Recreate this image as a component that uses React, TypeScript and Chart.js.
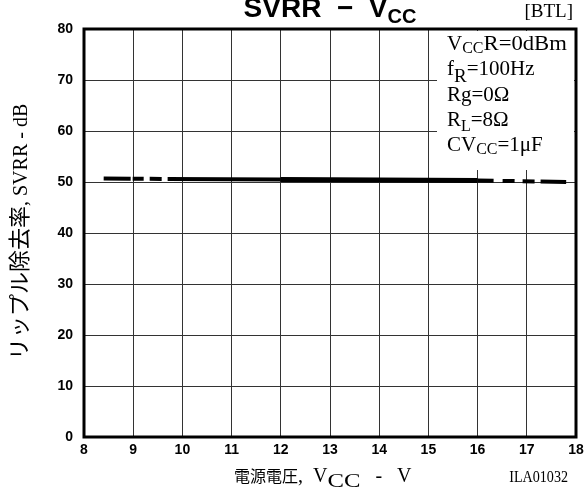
import React, { useEffect, useRef } from "react";
import { Chart, registerables } from "chart.js";

Chart.register(...registerables);

// ---- data ----
const vccLeftDashed = [8.4, 9.7];
const svrrLeftDashed = [50.7, 50.6];
const vccSolidThin = [9.7, 12.0];
const svrrSolidThin = [50.6, 50.5];
const vccSolidThick = [12.0, 16.0];
const svrrSolidThick = [50.5, 50.3];
const vccRightDashed = [16.0, 17.8];
const svrrRightDashed = [50.3, 50.0];

const xMin = 8;
const xMax = 18;
const yMin = 0;
const yMax = 80;

const titleMain = "SVRR  \u2212  V";
const titleSub = "CC";
const titleTag = "[BTL]";
const yTitleJa = "\u30ea\u30c3\u30d7\u30eb\u9664\u53bb\u7387";
const yTitleEn = ", SVRR - dB";
const xTitleJa = "\u96fb\u6e90\u96fb\u5727";
const figCode = "ILA01032";

const SERIF = '"Liberation Serif", "Times New Roman", serif';
const CJK = '"Noto Sans CJK JP", sans-serif';
const SANS = '"Liberation Sans", Arial, sans-serif';

type Part = { t: string; font: string; dy?: number; sx?: number };

function drawParts(
  ctx: CanvasRenderingContext2D,
  parts: Part[],
  x: number,
  y: number,
  align: "left" | "center" | "right"
) {
  ctx.save();
  ctx.textBaseline = "alphabetic";
  ctx.textAlign = "left";
  ctx.fillStyle = "#000";
  const widths = parts.map((p) => {
    ctx.font = p.font;
    return ctx.measureText(p.t).width * (p.sx ?? 1);
  });
  const total = widths.reduce((a, b) => a + b, 0);
  let cx = align === "left" ? x : align === "center" ? x - total / 2 : x - total;
  parts.forEach((p, i) => {
    ctx.font = p.font;
    ctx.save();
    ctx.translate(cx, y + (p.dy ?? 0));
    ctx.scale(p.sx ?? 1, 1);
    ctx.fillText(p.t, 0, 0);
    ctx.restore();
    cx += widths[i];
  });
  ctx.restore();
}

const legendLines: Part[][] = [
  [
    { t: "V", font: `21px ${SERIF}` },
    { t: "CC", font: `16px ${SERIF}`, dy: 3 },
    { t: "R=0dBm", font: `21px ${SERIF}`, sx: 1.08 },
  ],
  [
    { t: "f", font: `21px ${SERIF}` },
    { t: "R", font: `19px ${SERIF}`, dy: 7 },
    { t: "=100Hz", font: `21px ${SERIF}` },
  ],
  [{ t: "Rg=0\u03a9", font: `21px ${SERIF}` }],
  [
    { t: "R", font: `21px ${SERIF}` },
    { t: "L", font: `16px ${SERIF}`, dy: 5 },
    { t: "=8\u03a9", font: `21px ${SERIF}` },
  ],
  [
    { t: "CV", font: `21px ${SERIF}` },
    { t: "CC", font: `16px ${SERIF}`, dy: 3 },
    { t: "=1\u03bcF", font: `21px ${SERIF}` },
  ],
];

const overlayPlugin = {
  id: "overlay",
  beforeDatasetsDraw(chart: any) {
    const ctx: CanvasRenderingContext2D = chart.ctx;
    const { top, right } = chart.chartArea;
    ctx.save();
    ctx.fillStyle = "#fff";
    ctx.fillRect(right - 139, top + 2, 137, 139);
    ctx.restore();
  },
  afterDatasetsDraw(chart: any) {
    const ctx: CanvasRenderingContext2D = chart.ctx;
    const { left, top, right, bottom } = chart.chartArea;
    ctx.save();
    ctx.strokeStyle = "#000";
    ctx.lineWidth = 3;
    ctx.strokeRect(left, top, right - left, bottom - top);
    ctx.restore();
  },
  afterDraw(chart: any) {
    const ctx: CanvasRenderingContext2D = chart.ctx;
    const { left, top, right, bottom } = chart.chartArea;
    const cxArea = (left + right) / 2;

    // title
    drawParts(
      ctx,
      [
        { t: titleMain, font: `bold 28px ${SANS}` },
        { t: titleSub, font: `bold 20px ${SANS}`, dy: 6 },
      ],
      cxArea,
      top - 12,
      "center"
    );
    drawParts(ctx, [{ t: titleTag, font: `19px ${SERIF}` }], right - 3, top - 12, "right");

    // legend text
    legendLines.forEach((line, i) => {
      drawParts(ctx, line, right - 129, top + 21 + i * 25.3, "left");
    });

    // y title (rotated)
    ctx.save();
    ctx.translate(27, 360);
    ctx.rotate(-Math.PI / 2);
    drawParts(
      ctx,
      [
        { t: yTitleJa, font: `22px ${CJK}` },
        { t: yTitleEn, font: `20px ${SERIF}` },
      ],
      0,
      0,
      "left"
    );
    ctx.restore();

    // x title
    drawParts(
      ctx,
      [
        { t: xTitleJa, font: `16px ${CJK}` },
        { t: ",  V", font: `20px ${SERIF}` },
        { t: "CC", font: `19px ${SERIF}`, dy: 5, sx: 1.3 },
        { t: "   -   V", font: `20px ${SERIF}` },
      ],
      left + 150,
      bottom + 45,
      "left"
    );

    // figure code
    drawParts(ctx, [{ t: figCode, font: `17px ${SERIF}`, sx: 0.83 }], right - 8, bottom + 45, "right");
  },
};

function series(xs: number[], ys: number[]) {
  return xs.map((x, i) => ({ x, y: ys[i] }));
}

export default function App() {
  const canvasRef = useRef<HTMLCanvasElement | null>(null);

  useEffect(() => {
    document.body.style.margin = "0";
    const canvas = canvasRef.current;
    if (!canvas) return;
    const common = {
      borderColor: "#000",
      pointRadius: 0,
      fill: false,
      tension: 0,
      borderCapStyle: "butt" as const,
    };
    const chart = new Chart(canvas, {
      type: "line",
      data: {
        datasets: [
          { ...common, data: series(vccLeftDashed, svrrLeftDashed), borderWidth: 4, borderDash: [27, 2, 11, 6, 12, 9] },
          { ...common, data: series(vccSolidThin, svrrSolidThin), borderWidth: 4 },
          { ...common, data: series(vccSolidThick, svrrSolidThick), borderWidth: 5 },
          { ...common, data: series(vccRightDashed, svrrRightDashed), borderWidth: 4, borderDash: [16, 9, 12, 8, 12, 6, 27] },
        ],
      },
      options: {
        animation: false,
        responsive: false,
        devicePixelRatio: 1,
        layout: { padding: { top: 29, right: 8, left: 0, bottom: 0 } },
        plugins: {
          legend: { display: false },
          tooltip: { enabled: false },
          title: { display: false },
        },
        scales: {
          x: {
            type: "linear",
            min: xMin,
            max: xMax,
            ticks: {
              stepSize: 1,
              color: "#000",
              font: { family: SANS, weight: "bold", size: 14 },
              padding: 5,
              maxRotation: 0,
              autoSkip: false,
            },
            grid: { color: "#333", lineWidth: 1, drawTicks: false },
            border: { display: false },
            afterFit: (s: any) => {
              s.height = 58;
              s.paddingLeft = 0;
              s.paddingRight = 0;
            },
          },
          y: {
            type: "linear",
            min: yMin,
            max: yMax,
            ticks: {
              stepSize: 10,
              color: "#000",
              font: { family: SANS, weight: "bold", size: 14 },
              padding: 11,
            },
            grid: { color: "#333", lineWidth: 1, drawTicks: false },
            border: { display: false },
            afterFit: (s: any) => {
              s.width = 84;
              s.paddingTop = 0;
              s.paddingBottom = 0;
            },
          },
        },
      },
      plugins: [overlayPlugin],
    } as any);
    return () => chart.destroy();
  }, []);

  return <canvas ref={canvasRef} width={584} height={495} style={{ display: "block" }} />;
}
